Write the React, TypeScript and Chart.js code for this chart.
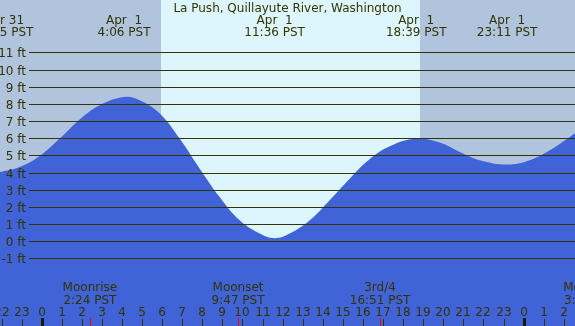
import React, { useEffect, useRef } from "react";
import { Chart, registerables } from "chart.js";

Chart.register(...registerables);

const TITLE = "La Push, Quillayute River, Washington";

// tide curve samples (hours from Apr 1 00:00 PST, height in ft)
const tideHours = [
  -2.09, -1.1, -0.1, 0.9, 1.89, 2.89, 4.1, 4.88, 5.88, 6.87, 7.87, 8.86, 9.86, 10.86, 11.6,
  12.35, 13.35, 14.34, 15.34, 16.33, 17.33, 18.65, 19.82, 20.82, 21.81, 23.18, 24.3, 25.3, 26.6,
];
const tideHeights = [
  4.03, 4.33, 4.97, 5.98, 7.09, 7.92, 8.4, 8.21, 7.44, 5.98, 4.23, 2.58, 1.22, 0.45, 0.18,
  0.45, 1.22, 2.39, 3.65, 4.78, 5.53, 5.98, 5.75, 5.2, 4.72, 4.47, 4.72, 5.3, 6.33,
];

// high / low labels at the top
const extremeHours = [-1.92, 4.1, 11.6, 18.65, 23.18];
const extremeDays = ["Mar 31", "Apr  1", "Apr  1", "Apr  1", "Apr  1"];
const extremeTimes = ["22:05 PST", "4:06 PST", "11:36 PST", "18:39 PST", "23:11 PST"];

// moon events at the bottom
const moonHours = [2.4, 9.78, 16.85, 27.33];
const moonNames = ["Moonrise", "Moonset", "3rd/4", "Moonrise"];
const moonTimes = ["2:24 PST", "9:47 PST", "16:51 PST", "3:20 PST"];

// daylight
const sunriseHour = 5.93;
const sunsetHour = 18.84;

// ft gridlines and hour ticks
const ftLevels = [-1, 0, 1, 2, 3, 4, 5, 6, 7, 8, 9, 10, 11];
const hourTicks = [-2, -1, 0, 1, 2, 3, 4, 5, 6, 7, 8, 9, 10, 11, 12, 13, 14, 15, 16, 17, 18, 19, 20, 21, 22, 23, 24, 25, 26];

const X_MIN = -2.077;
const X_MAX = 26.56;
const Y_MIN = -4.93;
const Y_MAX = 14.05;

const NIGHT = "#b0c4de";
const DAY = "#ddf6fe";
const WATER = "#4163d8";
const INK = "#333300";
const FONT = "12px 'DejaVu Sans'";

export default function App() {
  const ref = useRef<HTMLCanvasElement | null>(null);

  useEffect(() => {
    document.body.style.margin = "0";
    const canvas = ref.current;
    if (!canvas) return;

    const decor = {
      id: "decor",
      beforeDatasetsDraw(chart: any) {
        const { ctx, chartArea } = chart;
        const xs = chart.scales.x;
        ctx.save();
        ctx.fillStyle = NIGHT;
        ctx.fillRect(chartArea.left, chartArea.top, chartArea.right - chartArea.left, chartArea.bottom - chartArea.top);
        const a = Math.round(xs.getPixelForValue(sunriseHour));
        const b = Math.round(xs.getPixelForValue(sunsetHour));
        ctx.fillStyle = DAY;
        ctx.fillRect(a, chartArea.top, b - a, chartArea.bottom - chartArea.top);
        ctx.restore();
      },
      afterDatasetsDraw(chart: any) {
        const { ctx, chartArea } = chart;
        const xs = chart.scales.x;
        const ys = chart.scales.y;
        ctx.save();
        ctx.font = FONT;
        ctx.fillStyle = INK;
        ctx.strokeStyle = INK;
        ctx.lineWidth = 1;
        // ft lines
        ftLevels.forEach((f) => {
          const y = Math.round(ys.getPixelForValue(f)) + 0.5;
          ctx.beginPath();
          ctx.moveTo(29, y);
          ctx.lineTo(chartArea.right, y);
          ctx.stroke();
          ctx.textAlign = "right";
          ctx.textBaseline = "alphabetic";
          ctx.fillText(f + " ft", 26, y + 4);
        });
        // title
        ctx.textAlign = "center";
        ctx.fillText(TITLE, (chartArea.left + chartArea.right) / 2, 12);
        // extremes
        extremeHours.forEach((h, i) => {
          const x = xs.getPixelForValue(h);
          ctx.fillText(extremeDays[i], x, 24);
          ctx.fillText(extremeTimes[i], x, 36);
        });
        // moon
        moonHours.forEach((h, i) => {
          const x = xs.getPixelForValue(h);
          ctx.fillText(moonNames[i], x, 291);
          ctx.fillText(moonTimes[i], x, 304);
        });
        // hour labels + ticks
        hourTicks.forEach((h) => {
          const x = Math.round(xs.getPixelForValue(h));
          const lbl = String(((h % 24) + 24) % 24);
          ctx.fillText(lbl, x, 316);
          if (h % 24 === 0) {
            ctx.fillStyle = "#1a1a00";
            ctx.fillRect(x - 1, 318, 3, 8);
            ctx.fillStyle = INK;
          } else {
            ctx.fillRect(x, 319, 1, 7);
          }
        });
        ctx.fillStyle = "#ff0000";
        moonHours.forEach((h) => {
          const x = Math.round(xs.getPixelForValue(h));
          ctx.fillRect(x, 318, 1, 8);
        });
        ctx.restore();
      },
    };

    const chart = new Chart(canvas, {
      type: "line",
      data: {
        datasets: [
          {
            data: tideHours.map((h, i) => ({ x: h, y: tideHeights[i] })),
            fill: "start",
            backgroundColor: WATER,
            borderColor: WATER,
            borderWidth: 0,
            pointRadius: 0,
            tension: 0.4,
          },
        ],
      },
      options: {
        responsive: false,
        animation: false,
        events: [],
        layout: { padding: 0 },
        plugins: { legend: { display: false }, tooltip: { enabled: false }, title: { display: false } },
        scales: {
          x: { type: "linear", min: X_MIN, max: X_MAX, display: false },
          y: { type: "linear", min: Y_MIN, max: Y_MAX, display: false },
        },
      },
      plugins: [decor],
    });
    return () => chart.destroy();
  }, []);

  return (
    <div style={{ width: 575, height: 326 }}>
      <canvas ref={ref} width={575} height={326} style={{ display: "block" }} />
    </div>
  );
}
